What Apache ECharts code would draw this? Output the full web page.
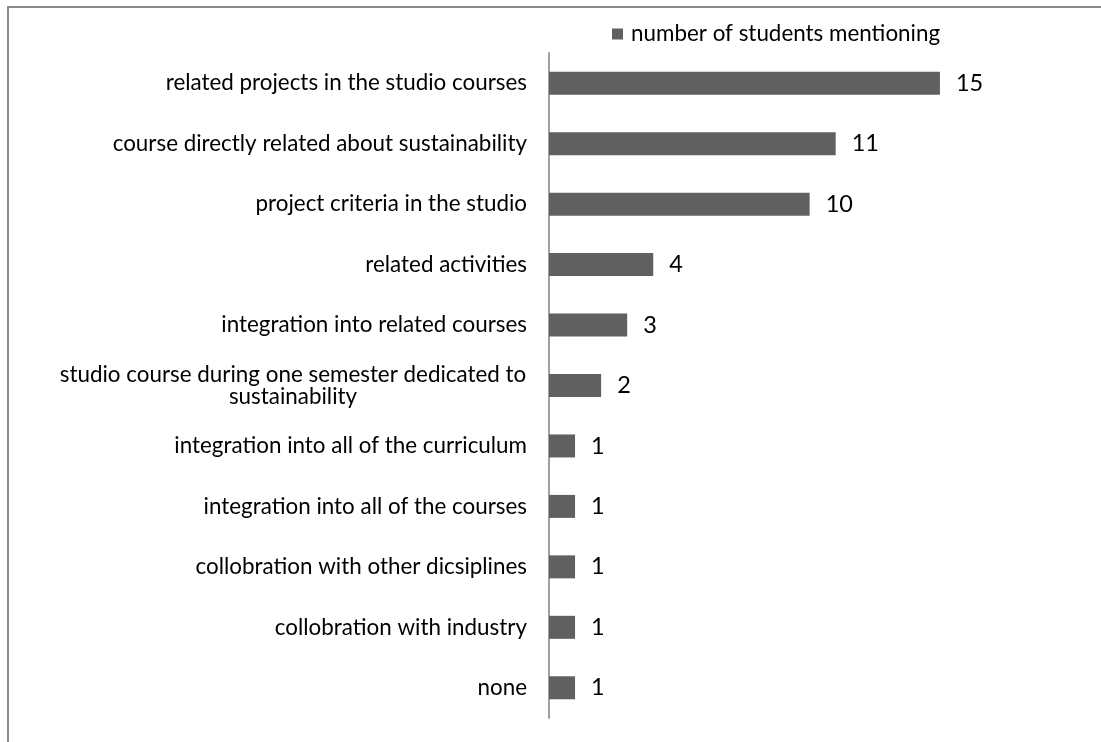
<!DOCTYPE html>
<html>
<head>
<meta charset="utf-8">
<script src="https://cdn.jsdelivr.net/npm/echarts@6/dist/echarts.min.js"></script>
<style>
  html, body { margin: 0; padding: 0; background: #fff; }
  #chart { width: 1101px; height: 742px; }
</style>
</head>
<body>
<div id="chart"></div>
<script>
// Ways of integrating sustainability into the curriculum, as named by students
const categories = [
  'related projects in the studio courses',
  'course directly related about sustainability',
  'project criteria in the studio',
  'related activities',
  'integration into related courses',
  'studio course during one semester dedicated to\nsustainability',
  'integration into all of the curriculum',
  'integration into all of the courses',
  'collobration with other dicsiplines',
  'collobration with industry',
  'none'
];
const mentions = [15, 11, 10, 4, 3, 2, 1, 1, 1, 1, 1];
const seriesName = 'number of students mentioning';

const FONT = 'Lato';
const chart = echarts.init(document.getElementById('chart'), null, { renderer: 'canvas' });

chart.setOption({
  backgroundColor: '#ffffff',
  animation: false,
  textStyle: { fontFamily: FONT, color: '#000' },
  graphic: [{
    type: 'rect',
    shape: { x: 8, y: 7, width: 1300, height: 900 },
    style: { fill: 'none', stroke: '#8a8a8a', lineWidth: 2 },
    silent: true
  }],
  legend: {
    left: 607,
    top: 18,
    itemWidth: 11,
    itemHeight: 11,
    itemGap: 10,
    icon: 'rect',
    textStyle: { fontFamily: FONT, fontSize: 22.4, color: '#000', padding: [0, 0, 0, 3] },
    data: [seriesName]
  },
  grid: { left: 549, top: 53, width: 417, height: 665, containLabel: false },
  xAxis: {
    type: 'value',
    min: 0,
    max: 16,
    show: false
  },
  yAxis: {
    type: 'category',
    data: categories,
    inverse: true,
    axisLine: { show: true, lineStyle: { color: '#a0a0a0', width: 2 } },
    axisTick: { show: false },
    axisLabel: {
      margin: 22,
      fontFamily: FONT,
      fontSize: 22.4,
      color: '#000',
      formatter: function (v) {
        if (v.indexOf('\n') >= 0) {
          return v.split('\n').map(function (s) { return '{c|' + s + '}'; }).join('\n');
        }
        return v;
      },
      rich: {
        c: { width: 468, align: 'center', fontFamily: FONT, fontSize: 22.4, color: '#000', lineHeight: 22 }
      }
    }
  },
  series: [{
    name: seriesName,
    type: 'bar',
    data: mentions,
    barWidth: 23,
    itemStyle: { color: '#606060' },
    label: {
      show: true,
      position: 'right',
      distance: 16,
      fontFamily: FONT,
      fontSize: 23.5,
      color: '#000'
    }
  }]
});
</script>
</body>
</html>
